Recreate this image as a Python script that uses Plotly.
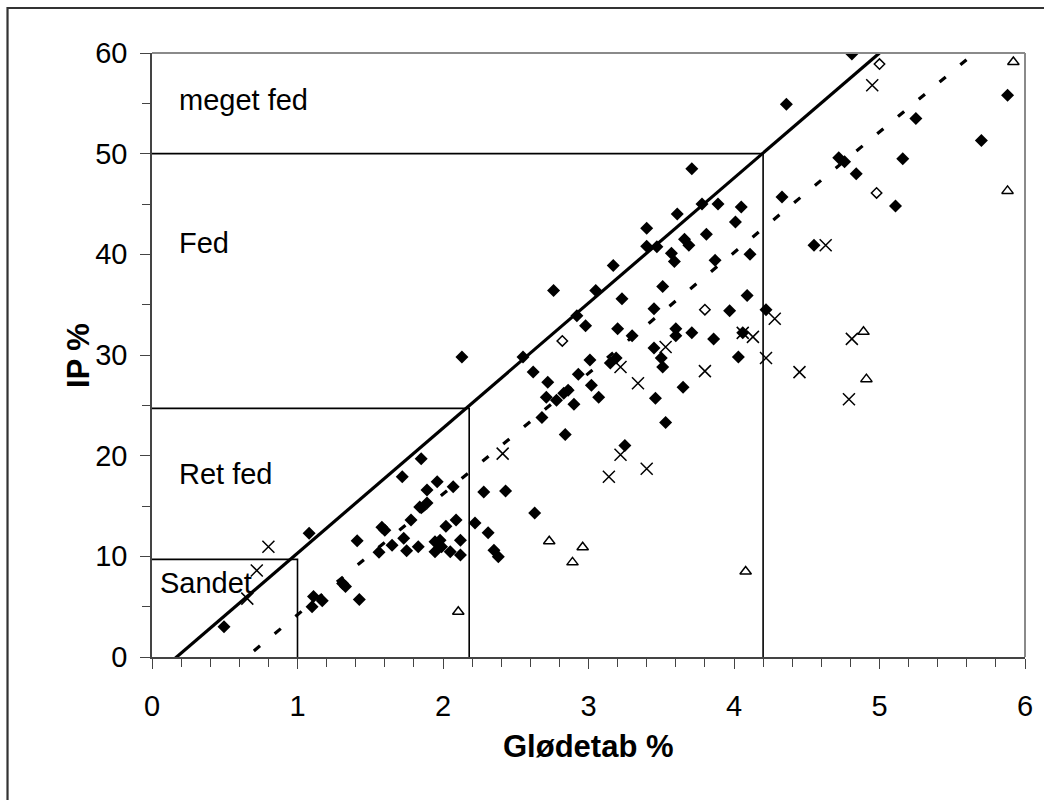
import plotly.graph_objects as go

# Filled diamonds (main data)
fd_x = [0.495, 1.08, 1.10, 1.11, 1.17, 1.31, 1.33, 1.425, 1.41, 1.56, 1.58, 1.60, 1.65, 1.72, 1.73,
        1.75, 1.78, 1.83, 1.84, 1.85, 1.89, 1.89, 1.96, 1.945, 1.98, 1.945, 1.99, 2.02, 2.05, 2.07,
        2.09, 2.12, 2.12, 2.13, 2.22, 2.28, 2.31, 2.35, 2.38, 2.43, 2.55, 2.62, 2.63, 2.68, 2.71,
        2.72, 2.76, 2.78, 2.83, 2.84, 2.86, 2.90, 2.92, 2.93, 2.98, 3.01, 3.02, 3.05, 3.07, 3.15,
        3.17, 3.19, 3.20, 3.23, 3.25, 3.30, 3.40, 3.40, 3.45, 3.45, 3.46, 3.47, 3.50, 3.51, 3.51,
        3.53, 3.57, 3.59, 3.60, 3.60, 3.61, 3.65, 3.66, 3.69, 3.71, 3.71, 3.78, 3.81, 3.86, 3.87,
        3.89, 3.97, 4.01, 4.03, 4.05, 4.06, 4.09, 4.11, 4.22, 4.33, 4.36, 4.55, 4.72, 4.76, 4.81,
        4.84, 5.11, 5.16, 5.25, 5.70, 5.88]
fd_y = [3.0, 12.3, 5.0, 6.0, 5.6, 7.3, 7.0, 5.7, 11.55, 10.4, 12.9, 12.6, 11.1, 17.9, 11.8,
        10.55, 13.6, 10.96, 14.9, 19.7, 16.6, 15.3, 17.4, 11.45, 11.6, 10.46, 10.95, 13.0, 10.46, 16.9,
        13.6, 10.13, 11.6, 29.8, 13.3, 16.4, 12.35, 10.6, 9.96, 16.5, 29.8, 28.3, 14.3, 23.8, 25.8,
        27.3, 36.4, 25.5, 26.2, 22.1, 26.5, 25.1, 33.9, 28.1, 32.9, 29.5, 27.0, 36.4, 25.8, 29.2,
        38.9, 29.7, 32.6, 35.6, 21.0, 31.9, 42.6, 40.8, 34.6, 30.7, 25.7, 40.75, 29.7, 28.8, 36.8,
        23.3, 40.1, 39.3, 32.6, 31.9, 44.0, 26.8, 41.5, 40.9, 48.5, 32.2, 45.0, 42.0, 31.6, 39.4,
        45.0, 34.4, 43.2, 29.8, 44.7, 32.2, 35.9, 40.0, 34.5, 45.7, 54.9, 40.9, 49.6, 49.2, 59.9,
        48.0, 44.8, 49.5, 53.5, 51.3, 55.8]

# Open diamonds
od_x = [2.82, 3.80, 4.98, 5.00]
od_y = [31.4, 34.5, 46.1, 58.9]

# Crosses
cr_x = [0.655, 0.72, 0.80, 2.41, 3.14, 3.22, 3.40, 3.22, 3.34, 3.53, 3.80, 4.06, 4.13, 4.28,
        4.22, 4.45, 4.63, 4.81, 4.79, 4.95]
cr_y = [5.8, 8.6, 10.95, 20.2, 17.9, 20.1, 18.7, 28.8, 27.2, 30.8, 28.4, 32.2, 31.8, 33.6,
        29.7, 28.3, 40.9, 31.6, 25.6, 56.8]

# Open triangles
tr_x = [2.105, 2.73, 2.96, 2.89, 4.08, 4.89, 4.91, 5.88, 5.92]
tr_y = [4.5, 11.5, 10.9, 9.4, 8.5, 32.3, 27.6, 46.3, 59.1]

# Classification boundary line (solid) and regression (dashed)
solid_x = [0.125, 5.0]
solid_y = [-0.55, 60.0]
dash_x = [0.70, 5.62]
dash_y = [0.6, 59.6]

# Class limits: (glødetab limit, IP limit)
limits_x = [1.0, 2.18, 4.2]
limits_y = [9.7, 24.7, 50.0]

labels = ["meget fed", "Fed", "Ret fed", "Sandet"]
label_x = [0.172, 0.172, 0.172, 0.04]
label_y = [55.3, 41.1, 18.2, 7.4]

x_ticks = [0, 1, 2, 3, 4, 5, 6]
y_ticks = [0, 10, 20, 30, 40, 50, 60]

FONT = "Liberation Sans, Arial, sans-serif"
FS = 29
FS_TITLE = 31

fig = go.Figure()

# class limit lines
for lx, ly in zip(limits_x, limits_y):
    fig.add_trace(go.Scatter(x=[0, lx, lx], y=[ly, ly, 0], mode="lines",
                             line=dict(color="black", width=1.6), hoverinfo="skip",
                             showlegend=False))

fig.add_trace(go.Scatter(x=solid_x, y=solid_y, mode="lines", cliponaxis=False,
                         line=dict(color="black", width=3.2), showlegend=False))
fig.add_trace(go.Scatter(x=dash_x, y=dash_y, mode="lines",
                         line=dict(color="black", width=3.2, dash="8px,19px"), showlegend=False))

fig.add_trace(go.Scatter(x=fd_x, y=fd_y, mode="markers",
                         marker=dict(symbol="diamond", size=10, color="black",
                                     line=dict(width=0)), showlegend=False))
fig.add_trace(go.Scatter(x=od_x, y=od_y, mode="markers",
                         marker=dict(symbol="diamond-open", size=8, color="black",
                                     line=dict(width=1.5)), showlegend=False))
fig.add_trace(go.Scatter(x=cr_x, y=cr_y, mode="markers",
                         marker=dict(symbol="x-thin-open", size=12, color="black",
                                     line=dict(width=1.5, color="black")), showlegend=False))
fig.add_trace(go.Scatter(x=tr_x, y=tr_y, mode="markers",
                         marker=dict(symbol="triangle-up-open", size=10, color="black",
                                     line=dict(width=1.5)), showlegend=False))

for t, lx, ly in zip(labels, label_x, label_y):
    fig.add_annotation(x=lx, y=ly, text=t, showarrow=False, xanchor="left", yanchor="middle",
                       font=dict(family=FONT, size=FS, color="black"))

# axis titles
fig.add_annotation(xref="paper", yref="paper", x=0.5, y=-0.149, text="<b>Glødetab %</b>",
                   showarrow=False, xanchor="center", yanchor="middle",
                   font=dict(family=FONT, size=FS_TITLE, color="black"))
fig.add_annotation(xref="paper", yref="paper", x=-0.0848, y=0.5, text="<b>IP %</b>",
                   showarrow=False, xanchor="center", yanchor="middle", textangle=-90,
                   font=dict(family=FONT, size=FS_TITLE, color="black"))

# plot-area frame (top/right gray) and outer chart border
fig.add_shape(type="line", xref="paper", yref="paper", x0=0, x1=1, y0=1, y1=1,
              line=dict(color="#8a8a8a", width=2))
fig.add_shape(type="line", xref="paper", yref="paper", x0=1, x1=1, y0=0, y1=1,
              line=dict(color="#8a8a8a", width=2))
fig.add_shape(type="rect", xref="paper", yref="paper", x0=-0.1655, x1=1.05, y0=-0.3, y1=1.0745,
              line=dict(color="#333333", width=2.2))

fig.update_xaxes(range=[0, 6], tickvals=x_ticks, ticks="outside", ticklen=10, tickwidth=1.3,
                 tickcolor="#444", showline=True, linecolor="#444", linewidth=1.5,
                 showgrid=False, zeroline=False, ticklabelstandoff=12,
                 tickfont=dict(family=FONT, size=FS, color="black"),
                 minor=dict(dtick=0.2, ticks="outside", ticklen=8, tickwidth=1.3,
                            tickcolor="#444", showgrid=False))
fig.update_yaxes(range=[0, 60], tickvals=y_ticks, ticks="outside", ticklen=10, tickwidth=1.3,
                 tickcolor="#444", showline=True, linecolor="#444", linewidth=1.5,
                 showgrid=False, zeroline=False, ticklabelstandoff=7,
                 tickfont=dict(family=FONT, size=FS, color="black"),
                 minor=dict(dtick=5, ticks="outside", ticklen=8, tickwidth=1.3,
                            tickcolor="#444", showgrid=False))

fig.update_layout(width=1044, height=800, margin=dict(l=152, r=19, t=53, b=143),
                  paper_bgcolor="white", plot_bgcolor="white", showlegend=False,
                  font=dict(family=FONT))

fig.write_html("out.html")
